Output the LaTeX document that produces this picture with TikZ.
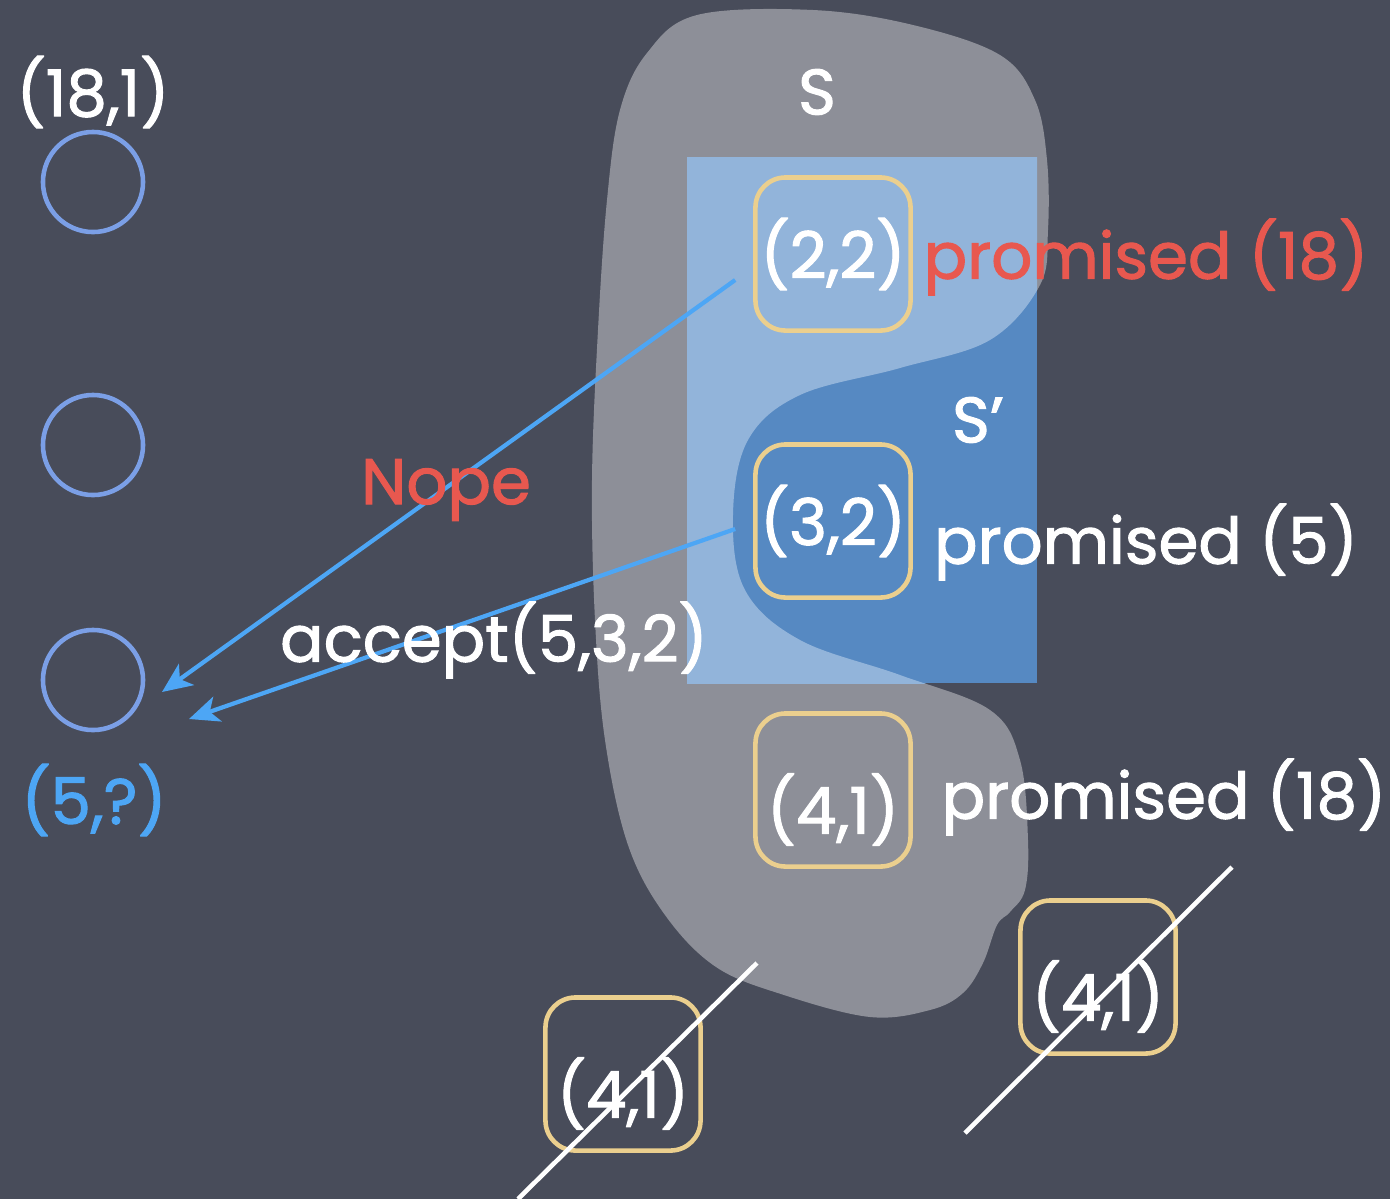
\documentclass[tikz,border=0pt]{standalone}
\usepackage{fontspec}
\setmainfont{Poppins}[FakeBold=1.6]
\usepackage{xcolor}
\usetikzlibrary{arrows.meta,shapes}

\definecolor{board}{HTML}{484C5A}
\definecolor{blobgray}{HTML}{8D8F98}
\definecolor{lightset}{HTML}{92B4DA}
\definecolor{darkset}{HTML}{5689C2}
\definecolor{boxyellow}{HTML}{EBCF8E}
\definecolor{ringblue}{HTML}{7B9FE6}
\definecolor{msgblue}{HTML}{4DA6F5}
\definecolor{nored}{HTML}{E8584F}

\begin{document}
\begin{tikzpicture}[x=0.01cm,y=-0.01cm,
    big/.style={font=\fontsize{18.3}{22}\selectfont},
    vote/.style={big,draw=boxyellow,line width=1.3pt,rounded corners=0.3cm,
        minimum width=1.55cm,minimum height=1.53cm,inner sep=0pt,text=white},
    low/.style={text height=0.87cm,text depth=0pt},
    acc/.style={circle,draw=ringblue,line width=1.3pt,minimum size=1cm,inner sep=0pt},
    lbl/.style={big,text=white,inner sep=0pt},
    msg/.style={msgblue,line width=1.2pt,-{Stealth[length=0.3cm,width=0.26cm,inset=0.08cm]}},
    cross/.style={white,line width=1.3pt}]
	\useasboundingbox (0,0) rectangle (1390,1199);
	\fill[board] (0,0) rectangle (1390,1199);
    % the set S
	\fill[blobgray] plot[smooth cycle,tension=0.6] coordinates {
        (647,53) (697,15) (813,10) (913,25) (1000,55) (1035,100) (1047,160)
        (1048,230) (1040,285) (990,340) (900,368) (800,395) (748,440)
        (733,515) (745,590) (800,640) (900,675) (990,710) (1020,760)
        (1028,840) (1025,890) (1010,912) (997,925) (983,963) (963,993)
        (930,1010) (870,1017) (784,995) (716,967) (665,915) (628,845)
        (605,740) (595,620) (592,480) (598,330) (607,200) (620,110)};
    % the set S'
	\fill[darkset] (687,157) rectangle (1037,683);
	\begin{scope}
		\clip (687,157) rectangle (1037,683);
		\fill[lightset] plot[smooth cycle,tension=0.6] coordinates {
            (647,53) (697,15) (813,10) (913,25) (1000,55) (1035,100) (1047,160)
            (1048,230) (1040,285) (990,340) (900,368) (800,395) (748,440)
            (733,515) (745,590) (800,640) (900,675) (990,710) (1020,760)
            (1028,840) (1025,890) (1010,912) (997,925) (983,963) (963,993)
            (930,1010) (870,1017) (784,995) (716,967) (665,915) (628,845)
            (605,740) (595,620) (592,480) (598,330) (607,200) (620,110)};
	\end{scope}
    % acceptors
	\foreach \y/\n in {182/c1,445/c2,680/c3}
		\node[acc] (\n) at (93,\y) {};
	\node[vote] (b22) at (833,254) {(2,2)};
	\node[vote] (b32) at (833,521) {(3,2)};
	\node[vote,low] (b41) at (833,790) {(4,1)};
	\node[vote,low] (b41l) at (623,1074) {(4,1)};
	\node[vote,low] (b41r) at (1098,977) {(4,1)};
    % messages
	\coordinate (t1) at ([shift={(-18,26)}]b22.west);
	\coordinate (h1) at ([shift={(69,12)}]c3.center);
	\coordinate (t2) at ([shift={(-18,8)}]b32.west);
	\coordinate (h2) at ([shift={(96,39)}]c3.center);
	\draw[msg] (t1) -- (h1);
	\draw[msg] (t2) -- (h2);
	\draw[cross] ([shift={(134,-111)}]b41l.center) -- ([shift={(-105,125)}]b41l.center);
	\draw[cross] ([shift={(134,-110)}]b41r.center) -- ([shift={(-133,156)}]b41r.center);
    % labels
	\node[lbl] (n181) at (93,92) {(18,1)};
	\node[lbl,text=msgblue] (n5q) at (94,800) {(5,?)};
	\node[lbl] (setS) at (817,92) {S};
	\node[lbl] (setSp) at (978,420) {S’};
	\node[lbl,text=nored] (p1) at (1146,257) {promised (18)};
	\node[lbl] (p2) at (1146,542) {promised (5)};
	\node[lbl] (p3) at (1164,797) {promised (18)};
	\node[lbl,text=nored] (nope) at (446,490) {Nope};
	\node[lbl] (acc1) at (494,640) {accept(5,3,2)};
\end{tikzpicture}
\end{document}
